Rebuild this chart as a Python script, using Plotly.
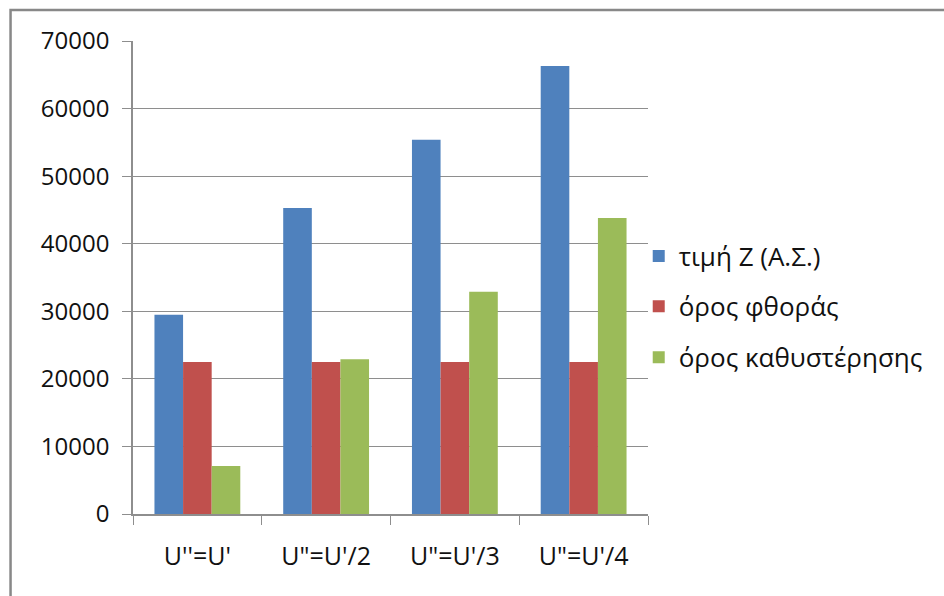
import plotly.graph_objects as go

# Scenario categories and the three cost terms
categories = ["U''=U'", 'U"=U\'/2', 'U"=U\'/3', 'U"=U\'/4']
z_value = [29500, 45300, 55400, 66300]        # τιμή Ζ (Α.Σ.)
wear_term = [22500, 22500, 22500, 22500]      # όρος φθοράς
delay_term = [7100, 22900, 32900, 43800]      # όρος καθυστέρησης
series_names = ["τιμή Ζ (Α.Σ.)", "όρος φθοράς", "όρος καθυστέρησης"]
y_ticks = [0, 10000, 20000, 30000, 40000, 50000, 60000, 70000]
y_tick_labels = ["0", "10000", "20000", "30000", "40000", "50000", "60000", "70000"]

colors = ["#4F81BD", "#C0504D", "#9BBB59"]
FONT = "Open Sans"
GRID = "#8e8e8e"

fig = go.Figure()
for i, (name, vals) in enumerate(zip(series_names, [z_value, wear_term, delay_term])):
    fig.add_trace(go.Bar(
        x=categories, y=vals, name=name, showlegend=True,
        marker=dict(color=colors[i], line=dict(width=0)),
        legend="legend" if i == 0 else f"legend{i + 1}",
    ))

legend_style = dict(
    x=0.982, xanchor="left", yanchor="middle",
    font=dict(family=FONT, size=26, color="#111111"),
    bgcolor="rgba(0,0,0,0)", itemwidth=30,
)

fig.update_layout(
    width=944, height=596,
    margin=dict(l=132.5, r=296.3, t=40.5, b=82),
    paper_bgcolor="white", plot_bgcolor="white",
    showlegend=True,
    barmode="group", bargap=1.5 / 4.5, bargroupgap=0,
    font=dict(family=FONT, size=23, color="#111111"),
    legend=dict(y=0.545, **legend_style),
    legend2=dict(y=0.439, **legend_style),
    legend3=dict(y=0.331, **legend_style),
    xaxis=dict(
        type="category", tickson="boundaries",
        ticks="outside", ticklen=9, tickcolor=GRID, tickwidth=1,
        showline=True, linecolor=GRID, linewidth=1.5,
        showgrid=False, ticklabelstandoff=19,
        tickfont=dict(family=FONT, size=25, color="#111111"),
    ),
    yaxis=dict(
        range=[0, 70000], tickvals=y_ticks, ticktext=y_tick_labels,
        ticks="outside", ticklen=9, tickcolor=GRID, tickwidth=1,
        showline=True, linecolor=GRID, linewidth=1.5,
        showgrid=True, gridcolor=GRID, gridwidth=1,
        zeroline=False, ticklabelstandoff=8,
        tickfont=dict(family=FONT, size=24, color="#111111"),
    ),
    shapes=[dict(
        type="rect", xref="paper", yref="paper",
        x0=(10 - 132.5) / 515.2, x1=1.8,
        y0=-0.4, y1=(514 - 9.5) / 473.5,
        line=dict(color="#888888", width=2.5), layer="below",
    )],
)

fig.write_html("out.html")
